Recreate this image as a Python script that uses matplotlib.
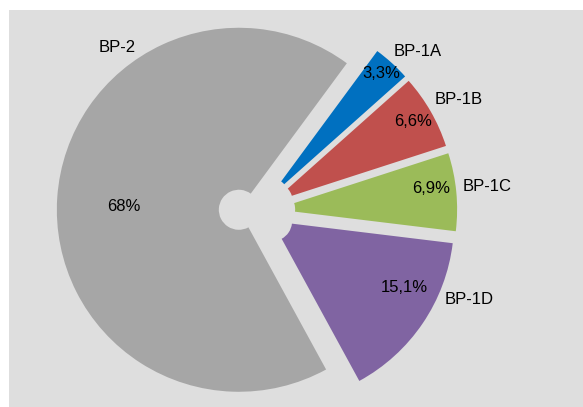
import matplotlib.pyplot as plt
from matplotlib.patches import Rectangle

# Data
categories = ["BP-1A", "BP-1B", "BP-1C", "BP-1D", "BP-2"]
shares = [3.3, 6.6, 6.9, 15.1, 68]
colors = ["#0070C0", "#C0504D", "#9BBB59", "#8064A2", "#A6A6A6"]
explode = [0.1, 0.1, 0.1, 0.1, 0.1]

# Label layout (data units, pie radius = 1)
name_pos = [(0.885, 0.874), (1.11, 0.61), (1.264, 0.132), (1.165, -0.489), (-0.769, 0.901)]
pct_pos = [(0.681, 0.753), (0.860, 0.491), (0.954, 0.124), (0.808, -0.420), (-0.731, 0.027)]

plt.rcParams['font.family'] = ['Liberation Sans', 'DejaVu Sans']

W, H = 583, 407
fig = plt.figure(figsize=(W / 100, H / 100), dpi=100)
fig.add_artist(Rectangle((9 / W, 0), 1 - 9 / W, 1 - 10 / H, transform=fig.transFigure,
                         facecolor="#DEDEDE", edgecolor="none", zorder=0))

ax = fig.add_axes([9 / W, 0, 1 - 9 / W, 1 - 10 / H])
ax.pie(shares, colors=colors, explode=explode, startangle=53.6, counterclock=False,
       wedgeprops=dict(width=0.89, linewidth=0), radius=1)

for name, v, (nx, ny), (px, py) in zip(categories, shares, name_pos, pct_pos):
    ax.text(nx, ny, name, ha="center", va="center", fontsize=12)
    ax.text(px, py, f"{v:g}".replace(".", ",") + "%", ha="center", va="center", fontsize=12)

# pie centre at (257, 211) px, radius 182 px
R = 182.0
ax_w, ax_h = W - 9, H - 10
cx, cy = 257 - 9, 211 - 10
ax.set_xlim(-cx / R, (ax_w - cx) / R)
ax.set_ylim(-(ax_h - cy) / R, cy / R)
ax.set_aspect("auto")
ax.axis("off")

fig.savefig("out.png", dpi=100)
